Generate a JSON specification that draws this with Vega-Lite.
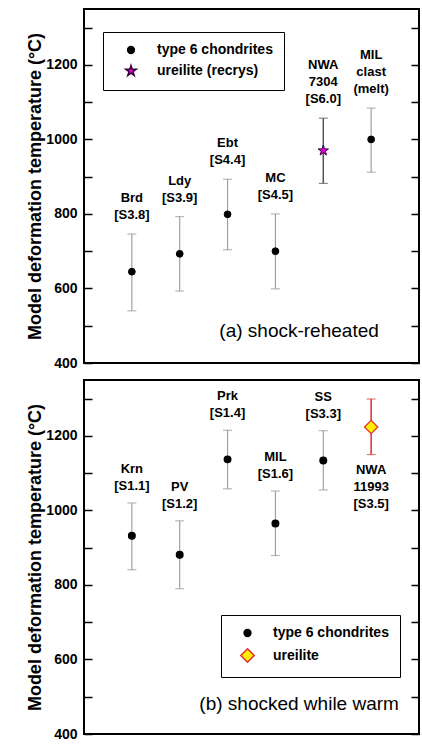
{
  "$schema": "https://vega.github.io/schema/vega-lite/v6.json",
  "padding": {"left": 25, "top": 8, "right": 0, "bottom": 0},
  "spacing": 8,
  "config": {
    "font": "Liberation Sans",
    "view": {"stroke": "black", "strokeWidth": 2},
    "axis": {
      "domain": false, "grid": false, "tickSize": -8, "tickColor": "black", "tickWidth": 1.5,
      "labelPadding": 15, "labelFont": "Liberation Sans", "labelFontSize": 14, "labelFontWeight": "bold", "labelColor": "black",
      "titleFont": "Liberation Sans", "titleFontSize": 18, "titleFontWeight": "bold", "titleColor": "black", "titlePadding": 1
    },
    "legend": {
      "labelFont": "Liberation Sans", "labelFontSize": 14, "labelFontWeight": "bold", "labelColor": "black", "labelLimit": 300,
      "padding": 11, "rowPadding": 5, "strokeColor": "black"
    }
  },
  "resolve": {
    "scale": {"fill": "independent", "shape": "independent", "stroke": "independent", "size": "independent"},
    "legend": {"fill": "independent", "shape": "independent", "stroke": "independent", "size": "independent"}
  },
  "vconcat": [
    {
      "width": 335, "height": 354,
      "data": {"values": [
        {"i": 1, "name": "Brd", "lab": "Brd\n[S3.8]", "type": "type 6 chondrites", "t": 645, "lo": 540, "hi": 746},
        {"i": 2, "name": "Ldy", "lab": "Ldy\n[S3.9]", "type": "type 6 chondrites", "t": 693, "lo": 593, "hi": 793},
        {"i": 3, "name": "Ebt", "lab": "Ebt\n[S4.4]", "type": "type 6 chondrites", "t": 799, "lo": 704, "hi": 893},
        {"i": 4, "name": "MC", "lab": "MC\n[S4.5]", "type": "type 6 chondrites", "t": 700, "lo": 599, "hi": 800},
        {"i": 5, "name": "NWA 7304", "lab": "NWA\n7304\n[S6.0]", "type": "ureilite (recrys)", "t": 970, "lo": 882, "hi": 1057},
        {"i": 6, "name": "MIL clast", "lab": "MIL\nclast\n(melt)", "type": "type 6 chondrites", "t": 1000, "lo": 912, "hi": 1084}
      ]},
      "resolve": {"axis": {"y": "independent"}},
      "layer": [
        {
          "mark": {"type": "rule"},
          "encoding": {
            "x": {"field": "i", "type": "quantitative", "scale": {"domain": [0, 7]}, "axis": null},
            "y": {"field": "lo", "type": "quantitative", "scale": {"domain": [400, 1350], "nice": false, "zero": false},
                  "axis": {"orient": "right", "values": [400, 500, 600, 700, 800, 900, 1000, 1100, 1200, 1300], "labels": false, "title": null}},
            "y2": {"field": "hi"},
            "color": {"condition": {"test": "datum.type !== 'type 6 chondrites'", "value": "#555555"}, "value": "#999999"},
            "strokeWidth": {"condition": {"test": "datum.type !== 'type 6 chondrites'", "value": 1.5}, "value": 1.1}
          }
        },
        {
          "mark": {"type": "tick", "orient": "horizontal", "size": 9, "thickness": 1.2},
          "encoding": {
            "x": {"field": "i", "type": "quantitative"},
            "y": {"field": "lo", "type": "quantitative", "axis": null},
            "color": {"condition": {"test": "datum.type !== 'type 6 chondrites'", "value": "#555555"}, "value": "#999999"}
          }
        },
        {
          "mark": {"type": "tick", "orient": "horizontal", "size": 9, "thickness": 1.2},
          "encoding": {
            "x": {"field": "i", "type": "quantitative"},
            "y": {"field": "hi", "type": "quantitative", "axis": null},
            "color": {"condition": {"test": "datum.type !== 'type 6 chondrites'", "value": "#555555"}, "value": "#999999"}
          }
        },
        {
          "mark": {"type": "point", "filled": true, "opacity": 1, "strokeWidth": 1},
          "encoding": {
            "x": {"field": "i", "type": "quantitative"},
            "y": {"field": "t", "type": "quantitative",
                  "axis": {"orient": "left", "values": [400, 500, 600, 700, 800, 900, 1000, 1100, 1200, 1300], "format": "d",
                           "labelExpr": "datum.value % 200 === 0 ? datum.label : ''", "title": "Model deformation temperature (°C)"}},
            "shape": {"field": "type", "type": "nominal",
                      "scale": {"domain": ["type 6 chondrites", "ureilite (recrys)"], "range": ["circle", "M0,-1L0.2245,-0.309L0.951,-0.309L0.363,0.118L0.588,0.809L0,0.382L-0.588,0.809L-0.363,0.118L-0.951,-0.309L-0.2245,-0.309Z"]},
                      "legend": {"title": null, "orient": "none", "legendX": 19, "legendY": 23, "symbolOffset": 10, "labelOffset": 19, "encode": {"legend": {"update": {"strokeWidth": {"value": 2}}}}}},
            "fill": {"field": "type", "type": "nominal",
                     "scale": {"domain": ["type 6 chondrites", "ureilite (recrys)"], "range": ["#000000", "#e600e6"]},
                     "legend": {"title": null, "orient": "none", "legendX": 19, "legendY": 23, "symbolOffset": 10, "labelOffset": 19, "encode": {"legend": {"update": {"strokeWidth": {"value": 2}}}}}},
            "stroke": {"field": "type", "type": "nominal",
                       "scale": {"domain": ["type 6 chondrites", "ureilite (recrys)"], "range": ["#000000", "#3a003a"]},
                       "legend": {"title": null, "orient": "none", "legendX": 19, "legendY": 23, "symbolOffset": 10, "labelOffset": 19, "encode": {"legend": {"update": {"strokeWidth": {"value": 2}}}}}},
            "size": {"field": "type", "type": "nominal",
                     "scale": {"domain": ["type 6 chondrites", "ureilite (recrys)"], "range": [46, 120]},
                     "legend": {"title": null, "orient": "none", "legendX": 19, "legendY": 23, "symbolOffset": 10, "labelOffset": 19, "encode": {"legend": {"update": {"strokeWidth": {"value": 2}}}}}}
          }
        },
        {
          "transform": [{"filter": "length(split(datum.lab, '\\n')) === 2"}],
          "mark": {"type": "text", "fontWeight": "bold", "fontSize": 13, "lineBreak": "\n", "lineHeight": 17, "baseline": "bottom", "dy": -29, "color": "black"},
          "encoding": {
            "x": {"field": "i", "type": "quantitative"},
            "y": {"field": "hi", "type": "quantitative", "axis": null},
            "text": {"field": "lab"}
          }
        },
        {
          "transform": [{"filter": "length(split(datum.lab, '\\n')) === 3"}],
          "mark": {"type": "text", "fontWeight": "bold", "fontSize": 13, "lineBreak": "\n", "lineHeight": 17, "baseline": "bottom", "dy": -46, "color": "black"},
          "encoding": {
            "x": {"field": "i", "type": "quantitative"},
            "y": {"field": "hi", "type": "quantitative", "axis": null},
            "text": {"field": "lab"}
          }
        },
        {
          "data": {"values": [{"label": "(a) shock-reheated"}]},
          "mark": {"type": "text", "fontSize": 19, "align": "right", "baseline": "middle", "color": "black"},
          "encoding": {
            "x": {"datum": 6.16, "type": "quantitative"},
            "y": {"datum": 485, "type": "quantitative", "axis": null},
            "text": {"field": "label"}
          }
        }
      ]
    },
    {
      "width": 335, "height": 354,
      "data": {"values": [
        {"i": 1, "name": "Krn", "lab": "Krn\n[S1.1]", "type": "type 6 chondrites", "t": 932, "lo": 841, "hi": 1020},
        {"i": 2, "name": "PV", "lab": "PV\n[S1.2]", "type": "type 6 chondrites", "t": 881, "lo": 790, "hi": 972},
        {"i": 3, "name": "Prk", "lab": "Prk\n[S1.4]", "type": "type 6 chondrites", "t": 1137, "lo": 1058, "hi": 1215},
        {"i": 4, "name": "MIL", "lab": "MIL\n[S1.6]", "type": "type 6 chondrites", "t": 965, "lo": 879, "hi": 1052},
        {"i": 5, "name": "SS", "lab": "SS\n[S3.3]", "type": "type 6 chondrites", "t": 1134, "lo": 1055, "hi": 1214},
        {"i": 6, "name": "NWA 11993", "lab": "NWA\n11993\n[S3.5]", "type": "ureilite", "t": 1224, "lo": 1150, "hi": 1299}
      ]},
      "resolve": {"axis": {"y": "independent"}},
      "layer": [
        {
          "mark": {"type": "rule"},
          "encoding": {
            "x": {"field": "i", "type": "quantitative", "scale": {"domain": [0, 7]}, "axis": null},
            "y": {"field": "lo", "type": "quantitative", "scale": {"domain": [400, 1350], "nice": false, "zero": false},
                  "axis": {"orient": "right", "values": [400, 500, 600, 700, 800, 900, 1000, 1100, 1200, 1300], "labels": false, "title": null}},
            "y2": {"field": "hi"},
            "color": {"condition": {"test": "datum.type !== 'type 6 chondrites'", "value": "#e03c3c"}, "value": "#999999"},
            "strokeWidth": {"condition": {"test": "datum.type !== 'type 6 chondrites'", "value": 1.6}, "value": 1.1}
          }
        },
        {
          "mark": {"type": "tick", "orient": "horizontal", "size": 9, "thickness": 1.2},
          "encoding": {
            "x": {"field": "i", "type": "quantitative"},
            "y": {"field": "lo", "type": "quantitative", "axis": null},
            "color": {"condition": {"test": "datum.type !== 'type 6 chondrites'", "value": "#e03c3c"}, "value": "#999999"}
          }
        },
        {
          "mark": {"type": "tick", "orient": "horizontal", "size": 9, "thickness": 1.2},
          "encoding": {
            "x": {"field": "i", "type": "quantitative"},
            "y": {"field": "hi", "type": "quantitative", "axis": null},
            "color": {"condition": {"test": "datum.type !== 'type 6 chondrites'", "value": "#e03c3c"}, "value": "#999999"}
          }
        },
        {
          "mark": {"type": "point", "filled": true, "opacity": 1, "strokeWidth": 1.2},
          "encoding": {
            "x": {"field": "i", "type": "quantitative"},
            "y": {"field": "t", "type": "quantitative",
                  "axis": {"orient": "left", "values": [400, 500, 600, 700, 800, 900, 1000, 1100, 1200, 1300], "format": "d",
                           "labelExpr": "datum.value % 200 === 0 ? datum.label : ''", "title": "Model deformation temperature (°C)"}},
            "shape": {"field": "type", "type": "nominal",
                      "scale": {"domain": ["type 6 chondrites", "ureilite"], "range": ["circle", "diamond"]},
                      "legend": {"title": null, "orient": "none", "legendX": 137, "legendY": 235, "symbolOffset": 8, "labelOffset": 18, "encode": {"legend": {"update": {"strokeWidth": {"value": 2}}}}}},
            "fill": {"field": "type", "type": "nominal",
                     "scale": {"domain": ["type 6 chondrites", "ureilite"], "range": ["#000000", "#ffee00"]},
                     "legend": {"title": null, "orient": "none", "legendX": 137, "legendY": 235, "symbolOffset": 8, "labelOffset": 18, "encode": {"legend": {"update": {"strokeWidth": {"value": 2}}}}}},
            "stroke": {"field": "type", "type": "nominal",
                       "scale": {"domain": ["type 6 chondrites", "ureilite"], "range": ["#000000", "#e03030"]},
                       "legend": {"title": null, "orient": "none", "legendX": 137, "legendY": 235, "symbolOffset": 8, "labelOffset": 18, "encode": {"legend": {"update": {"strokeWidth": {"value": 2}}}}}},
            "size": {"field": "type", "type": "nominal",
                     "scale": {"domain": ["type 6 chondrites", "ureilite"], "range": [46, 180]},
                     "legend": {"title": null, "orient": "none", "legendX": 137, "legendY": 235, "symbolOffset": 8, "labelOffset": 18, "encode": {"legend": {"update": {"strokeWidth": {"value": 2}}}}}}
          }
        },
        {
          "transform": [{"filter": "datum.type === 'type 6 chondrites'"}],
          "mark": {"type": "text", "fontWeight": "bold", "fontSize": 13, "lineBreak": "\n", "lineHeight": 17, "baseline": "bottom", "dy": -27, "color": "black"},
          "encoding": {
            "x": {"field": "i", "type": "quantitative"},
            "y": {"field": "hi", "type": "quantitative", "axis": null},
            "text": {"field": "lab"}
          }
        },
        {
          "transform": [{"filter": "datum.type !== 'type 6 chondrites'"}],
          "mark": {"type": "text", "fontWeight": "bold", "fontSize": 13, "lineBreak": "\n", "lineHeight": 17, "baseline": "top", "dy": 9, "color": "black"},
          "encoding": {
            "x": {"field": "i", "type": "quantitative"},
            "y": {"field": "lo", "type": "quantitative", "axis": null},
            "text": {"field": "lab"}
          }
        },
        {
          "data": {"values": [{"label": "(b) shocked while warm"}]},
          "mark": {"type": "text", "fontSize": 19, "align": "right", "baseline": "middle", "color": "black"},
          "encoding": {
            "x": {"datum": 6.58, "type": "quantitative"},
            "y": {"datum": 480, "type": "quantitative", "axis": null},
            "text": {"field": "label"}
          }
        }
      ]
    }
  ]
}
